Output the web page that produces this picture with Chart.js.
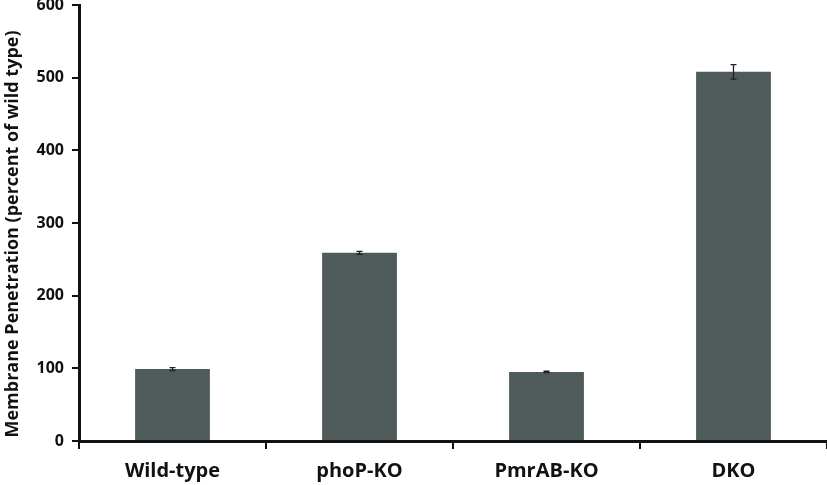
<!DOCTYPE html>
<html><head><meta charset="utf-8">
<script src="https://cdn.jsdelivr.net/npm/chart.js@4/dist/chart.umd.min.js"></script>
<style>html,body{margin:0;padding:0;background:#fff}#w{width:827px;height:485px}</style>
</head><body><div id="w"><canvas id="c"></canvas></div>
<script>
const categories = ["Wild-type", "phoP-KO", "PmrAB-KO", "DKO"];
const values = [99, 259, 95, 508];
const errors = [2, 2, 1, 10];
const yTicks = [0, 100, 200, 300, 400, 500, 600];
const yTitle = 'Membrane Penetration (percent of wild type)';

const errPlugin = {
  id: 'err',
  afterDatasetsDraw(chart) {
    const ctx = chart.ctx, ys = chart.scales.y;
    const meta = chart.getDatasetMeta(0);
    ctx.save();
    ctx.strokeStyle = '#222';
    ctx.lineWidth = 1.3;
    meta.data.forEach((bar, i) => {
      const x = bar.x;
      const t = ys.getPixelForValue(values[i] + errors[i]);
      const b = ys.getPixelForValue(values[i] - errors[i]);
      ctx.beginPath();
      ctx.moveTo(x, t); ctx.lineTo(x, b);
      ctx.moveTo(x - 3, t); ctx.lineTo(x + 3, t);
      ctx.moveTo(x - 3, b); ctx.lineTo(x + 3, b);
      ctx.stroke();
    });
    ctx.restore();
  }
};

const titlePlugin = {
  id: 'ytitle',
  afterDraw(chart) {
    const ctx = chart.ctx;
    ctx.save();
    ctx.translate(13, 234);
    ctx.rotate(-Math.PI / 2);
    ctx.fillStyle = '#111';
    ctx.font = 'bold 18px "Open Sans"';
    ctx.textAlign = 'center';
    ctx.textBaseline = 'middle';
    ctx.fillText(yTitle, 0, 0);
    ctx.restore();
  }
};

new Chart(document.getElementById('c'), {
  type: 'bar',
  data: {
    labels: categories,
    datasets: [{
      data: values,
      backgroundColor: '#4f5b5b',
      borderWidth: 0,
      barPercentage: 0.4,
      categoryPercentage: 1.0
    }]
  },
  options: {
    responsive: true,
    maintainAspectRatio: false,
    animation: false,
    layout: { padding: { top: 5, right: 0, left: 0, bottom: 0 } },
    plugins: { legend: { display: false }, tooltip: { enabled: false } },
    scales: {
      x: {
        offset: true,
        grid: { offset: true, drawOnChartArea: false, color: '#111', lineWidth: 2, tickLength: 8 },
        border: { color: '#111', width: 3 },
        ticks: { color: '#111', font: { family: 'Open Sans', weight: 'bold', size: 20 }, padding: 10 },
        afterFit: s => { s.height = 44; s.paddingLeft = 0; s.paddingRight = 0; }
      },
      y: {
        min: 0, max: 600,
        afterBuildTicks: s => { s.ticks = yTicks.map(v => ({ value: v })); },
        grid: { drawOnChartArea: false, color: '#111', lineWidth: 2, tickLength: 7 },
        border: { color: '#111', width: 3 },
        ticks: { color: '#111', font: { family: 'Open Sans', weight: 'bold', size: 16 }, padding: 8 },
        afterFit: s => { s.width = 79; s.paddingTop = 0; s.paddingBottom = 0; }
      }
    }
  },
  plugins: [errPlugin, titlePlugin]
});
</script>
</body></html>
